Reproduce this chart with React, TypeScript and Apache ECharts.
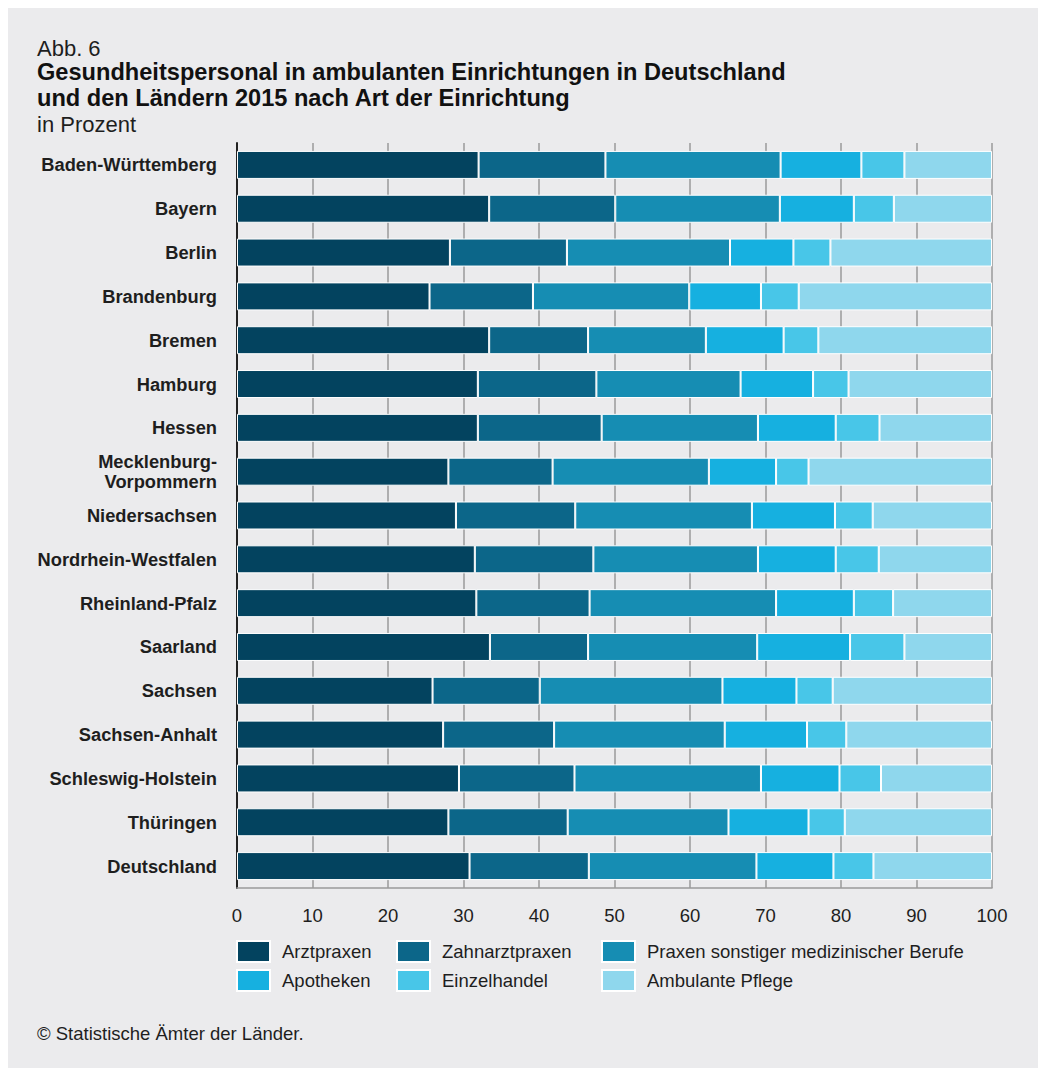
import React, { useEffect, useRef } from "react";
import * as echarts from "echarts";

const categories = [
  "Baden-Württemberg",
  "Bayern",
  "Berlin",
  "Brandenburg",
  "Bremen",
  "Hamburg",
  "Hessen",
  "Mecklenburg-\nVorpommern",
  "Niedersachsen",
  "Nordrhein-Westfalen",
  "Rheinland-Pfalz",
  "Saarland",
  "Sachsen",
  "Sachsen-Anhalt",
  "Schleswig-Holstein",
  "Thüringen",
  "Deutschland",
];

const arztpraxen = [32.0, 33.4, 28.2, 25.5, 33.4, 31.9, 31.9, 28.0, 29.0, 31.5, 31.7, 33.5, 25.9, 27.3, 29.4, 28.0, 30.8];
const zahnarztpraxen = [16.8, 16.7, 15.5, 13.7, 13.1, 15.7, 16.4, 13.8, 15.8, 15.7, 15.0, 13.0, 14.2, 14.7, 15.3, 15.8, 15.8];
const sonstige = [23.2, 21.8, 21.6, 20.7, 15.6, 19.1, 20.7, 20.7, 23.4, 21.8, 24.7, 22.4, 24.2, 22.6, 24.7, 21.3, 22.2];
const apotheken = [10.7, 9.8, 8.4, 9.5, 10.3, 9.6, 10.3, 8.9, 11.0, 10.3, 10.3, 12.3, 9.8, 10.9, 10.4, 10.6, 10.2];
const einzelhandel = [5.7, 5.3, 4.9, 5.0, 4.6, 4.7, 5.8, 4.3, 5.0, 5.7, 5.2, 7.2, 4.8, 5.2, 5.5, 4.8, 5.3];
const pflege = [11.6, 13.0, 21.4, 25.6, 23.0, 19.0, 14.9, 24.3, 15.8, 15.0, 13.1, 11.6, 21.1, 19.3, 14.7, 19.5, 15.7];

const seriesNames = [
  "Arztpraxen",
  "Zahnarztpraxen",
  "Praxen sonstiger medizinischer Berufe",
  "Apotheken",
  "Einzelhandel",
  "Ambulante Pflege",
];
const seriesData = [arztpraxen, zahnarztpraxen, sonstige, apotheken, einzelhandel, pflege];
const colors = ["#03435f", "#0c6689", "#168db3", "#16b0e0", "#48c6e8", "#8fd7ed"];

const FONT = "'Liberation Sans', Arial, sans-serif";
const TEXT = "#1e1e1e";

export default function App() {
  const ref = useRef<HTMLDivElement>(null);

  useEffect(() => {
    if (!ref.current) return;
    const chart = echarts.init(ref.current, undefined, { renderer: "svg" });

    const legendCol = (left: number, names: string[]) => ({
      left,
      top: 932,
      padding: 0,
      orient: "vertical",
      icon: "rect",
      itemWidth: 33,
      itemHeight: 21,
      itemGap: 6,
      data: names,
      textStyle: { fontSize: 18.5, color: TEXT, fontFamily: FONT, padding: [0, 0, 0, 7] },
    });

    chart.setOption({
      animation: false,
      backgroundColor: "#ebebed",
      textStyle: { fontFamily: FONT },
      grid: { left: 229, right: 46, top: 135, bottom: 180, containLabel: false },
      xAxis: {
        type: "value",
        min: 0,
        max: 100,
        interval: 10,
        position: "bottom",
        axisLine: { show: true, lineStyle: { color: "#9a9a9a", width: 1.5 } },
        axisTick: { show: false },
        splitLine: { show: true, lineStyle: { color: "#9a9a9a", width: 1.5 } },
        axisLabel: { fontSize: 18.5, color: TEXT, margin: 18, fontFamily: FONT },
      },
      yAxis: {
        type: "category",
        inverse: true,
        data: categories,
        axisLine: { show: true, onZero: false, lineStyle: { color: "#222", width: 2 } },
        axisTick: { show: false },
        axisLabel: {
          fontSize: 18.3,
          fontWeight: "bold",
          color: TEXT,
          margin: 20,
          lineHeight: 20,
          fontFamily: FONT,
        },
      },
      legend: [
        legendCol(228, [seriesNames[0], seriesNames[3]]),
        legendCol(388, [seriesNames[1], seriesNames[4]]),
        legendCol(593, [seriesNames[2], seriesNames[5]]),
      ],
      series: seriesNames.map((name, i) => ({
        name,
        type: "bar",
        stack: "total",
        barWidth: 28,
        data: seriesData[i],
        itemStyle: { color: colors[i], borderColor: "#ffffff", borderWidth: 1 },
        emphasis: { disabled: true },
      })),
      graphic: [
        {
          type: "text",
          left: 29,
          top: 29,
          style: { text: "Abb. 6", fontSize: 22, fill: TEXT, fontFamily: FONT },
        },
        {
          type: "text",
          left: 29,
          top: 51,
          style: {
            text: "Gesundheitspersonal in ambulanten Einrichtungen in Deutschland\nund den Ländern 2015 nach Art der Einrichtung",
            fontSize: 23.6,
            fontWeight: "bold",
            lineHeight: 26,
            fill: "#111",
            fontFamily: FONT,
          },
        },
        {
          type: "text",
          left: 29,
          top: 105,
          style: { text: "in Prozent", fontSize: 22, fill: TEXT, fontFamily: FONT },
        },
        {
          type: "text",
          left: 29,
          top: 1016,
          style: { text: "© Statistische Ämter der Länder.", fontSize: 18.5, fill: TEXT, fontFamily: FONT },
        },
      ],
    });

    return () => chart.dispose();
  }, []);

  return <div ref={ref} style={{ width: 1030, height: 1060 }} />;
}
